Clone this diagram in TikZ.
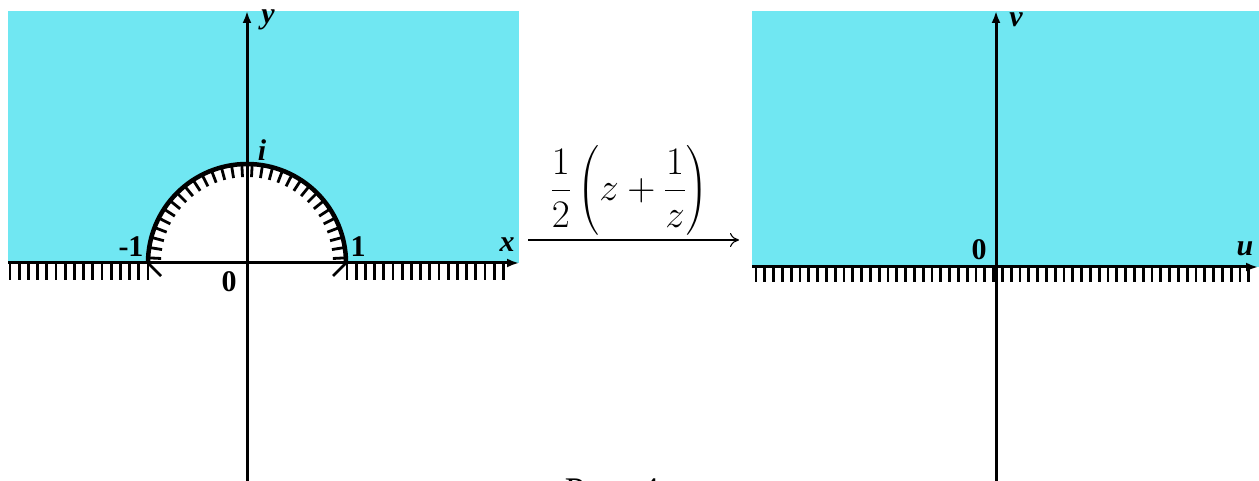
\RequirePackage{fix-cm}
\documentclass[tikz,border=0pt]{standalone}
\usepackage{fontspec}
\setmainfont{Liberation Serif}
\usepackage{amsmath}
\usetikzlibrary{positioning,arrows.meta,calc}
\definecolor{hpl}{RGB}{112,231,242}

\begin{document}
\begin{tikzpicture}[x=1pt,y=1pt,>={Latex[length=12pt,width=9pt]},
  axs/.style={line width=3pt},
  hch/.style={line width=2.8pt},
  semi/.style={line width=4.5pt},
  lbl/.style={inner sep=0pt,font=\fontsize{30}{33}\selectfont\bfseries},
  lbi/.style={lbl,font=\fontsize{30}{33}\selectfont\bfseries\itshape},
  maps/.style={line width=1.1pt,-{To[length=9pt,width=14pt]}}]
  \useasboundingbox (0,0) rectangle (1259,480);
  % z-plane: upper half plane minus the unit disc
  \fill[hpl] (8,217) rectangle (519,469);
  \fill[white] (148,217) arc[start angle=180,end angle=0,radius=99] -- cycle;
  \coordinate (O1) at (247,217);
  \draw[axs,->] (8,217) -- (519,217);
  \draw[axs,->] (247,-5) -- (247,469);
  \draw[semi] (148,217) arc[start angle=180,end angle=0,radius=99];
  \foreach \a in {3,9,...,177}
    \draw[hch] ($(O1)+(\a:99)$) -- ($(O1)+(\a:86)$);
  \foreach \t in {10,19.2,...,148}
    \draw[hch] (\t,217) -- (\t,200);
  \foreach \t in {347,356.2,...,505}
    \draw[hch] (\t,217) -- (\t,200);
  \draw[hch] (148,217) -- (161,204);
  \draw[hch] (346,217) -- (333,204);
  \node[lbi] (ly) at (268,460) {y};
  \node[lbi] (lx) at (507,235) {x};
  \node[lbi] (li) at (262,330) {i};
  \node[lbl] (lm1) at (131,233) {-1};
  \node[lbl] (lp1) at (358,233) {1};
  \node[lbl] (lo1) at (229,198) {0};
  % w-plane: upper half plane
  \fill[hpl] (752,213) rectangle (1259,469);
  \coordinate (O2) at (996,213);
  \draw[axs,->] (752,213) -- (1258,213);
  \draw[axs,->] (996,-5) -- (996,469);
  \foreach \t in {756,764.8,...,1250}
    \draw[hch] (\t,213) -- (\t,198);
  \node[lbi] (lv) at (1016,460) {v};
  \node[lbi] (lu) at (1245,231) {u};
  \node[lbl] (lo2) at (979,230) {0};
  % mapping arrow
  \coordinate (mapL) at (528,240);
  \coordinate (mapR) at (739,240);
  \draw[maps] (mapL) -- (mapR);
  \node[font=\fontsize{39}{45}\selectfont,above=1pt of $(mapL)!0.48!(mapR)$] (fz)
    {$\displaystyle\frac{1}{2}\left(z+\frac{1}{z}\right)$};
  \node[anchor=base,font=\fontsize{36}{40}\selectfont] (cap) at (612,-22) {Рис. 4};
\end{tikzpicture}
\end{document}
